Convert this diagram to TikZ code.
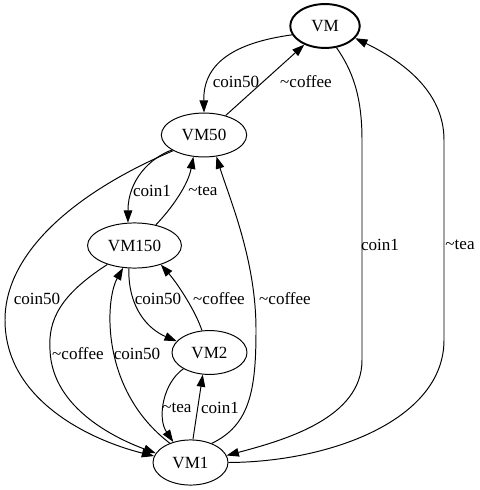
\documentclass[tikz,border=0pt]{standalone}
\usepackage{fontspec}
\setmainfont{Liberation Serif}
\usetikzlibrary{arrows.meta,shapes.geometric}
\tikzset{
    state/.style={draw, ellipse, line width=0.8pt, minimum height=36pt, inner sep=0pt},
    lbl/.style={inner sep=0pt},
    tr/.style={line width=0.8pt, -{Triangle[length=10pt, width=7pt]}}
}
\begin{document}
\begin{tikzpicture}[x=0.82pt, y=-0.82pt, font=\fontsize{14}{17}\selectfont]
    \useasboundingbox (0, 0) rectangle (480, 490);
    \node[state, line width=1.6pt, minimum width=57pt] (vm) at (325, 26) {VM};
    \node[state, minimum width=70pt] (vm50) at (204, 135) {VM50};
    \node[state, minimum width=77pt, minimum height=37pt] (vm150) at (134.5, 245.5) {VM150};
    \node[state, minimum width=61.5pt] (vm2) at (209.5, 352.5) {VM2};
    \node[state, minimum width=61.5pt, minimum height=37pt] (vm1) at (190.5, 462.5) {VM1};
    \draw[tr] (vm.195) .. controls (240, 42) and (203, 60) .. (vm50.north);
    \draw[tr] (vm50) -- (vm);
    \draw[tr] (vm.-62) .. controls (352, 70) and (362, 95) .. (362, 140) -- (362, 360) .. controls (362, 418) and (285, 440) .. (vm1.11);
    \draw[tr] (vm1.east) .. controls (330, 462) and (444, 420) .. (444, 340) -- (444, 140) .. controls (444, 90) and (400, 60) .. (vm.-22);
    \draw[tr] (vm50.205) .. controls (150, 158) and (128, 180) .. (vm150.106);
    \draw[tr] (vm150.44) .. controls (172, 208) and (188, 185) .. (vm50.244);
    \draw[tr] (vm50.207) .. controls (80, 190) and (5, 250) .. (5, 320) .. controls (5, 400) and (90, 440) .. (vm1.170);
    \draw[tr] (vm1.42) .. controls (250, 425) and (256, 390) .. (256, 330) .. controls (256, 260) and (230, 200) .. (vm50.-60);
    \draw[tr] (vm150.215) .. controls (60, 295) and (48, 320) .. (50, 350) .. controls (52, 410) and (120, 440) .. (vm1.165);
    \draw[tr] (vm1.137) .. controls (100, 390) and (105, 300) .. (vm150.243);
    \draw[tr] (vm150.256) .. controls (128, 310) and (150, 330) .. (vm2.161);
    \draw[tr] (vm2.109) .. controls (196, 312) and (178, 284) .. (vm150.-36);
    \draw[tr] (vm2.212) .. controls (163, 383) and (157, 418) .. (vm1.130);
    \draw[tr] (vm1.84) -- (vm2.253);
    \node[lbl] (c50top) at (236, 82) {coin50};
    \node[lbl] (cofftop) at (306, 82) {\textasciitilde coffee};
    \node[lbl] (c1right) at (380, 245) {coin1};
    \node[lbl] (tearight) at (460, 245) {\textasciitilde tea};
    \node[lbl] (c1mid) at (152, 191) {coin1};
    \node[lbl] (teamid) at (203, 191) {\textasciitilde tea};
    \node[lbl] (c50left) at (37, 299) {coin50};
    \node[lbl] (coffright) at (285, 299) {\textasciitilde coffee};
    \node[lbl] (coffleft) at (78, 354) {\textasciitilde coffee};
    \node[lbl] (c50up) at (137, 354) {coin50};
    \node[lbl] (c50down) at (158, 299) {coin50};
    \node[lbl] (coffvm2) at (219, 299) {\textasciitilde coffee};
    \node[lbl] (teabot) at (177, 408) {\textasciitilde tea};
    \node[lbl] (c1bot) at (220, 408) {coin1};
\end{tikzpicture}
\end{document}
